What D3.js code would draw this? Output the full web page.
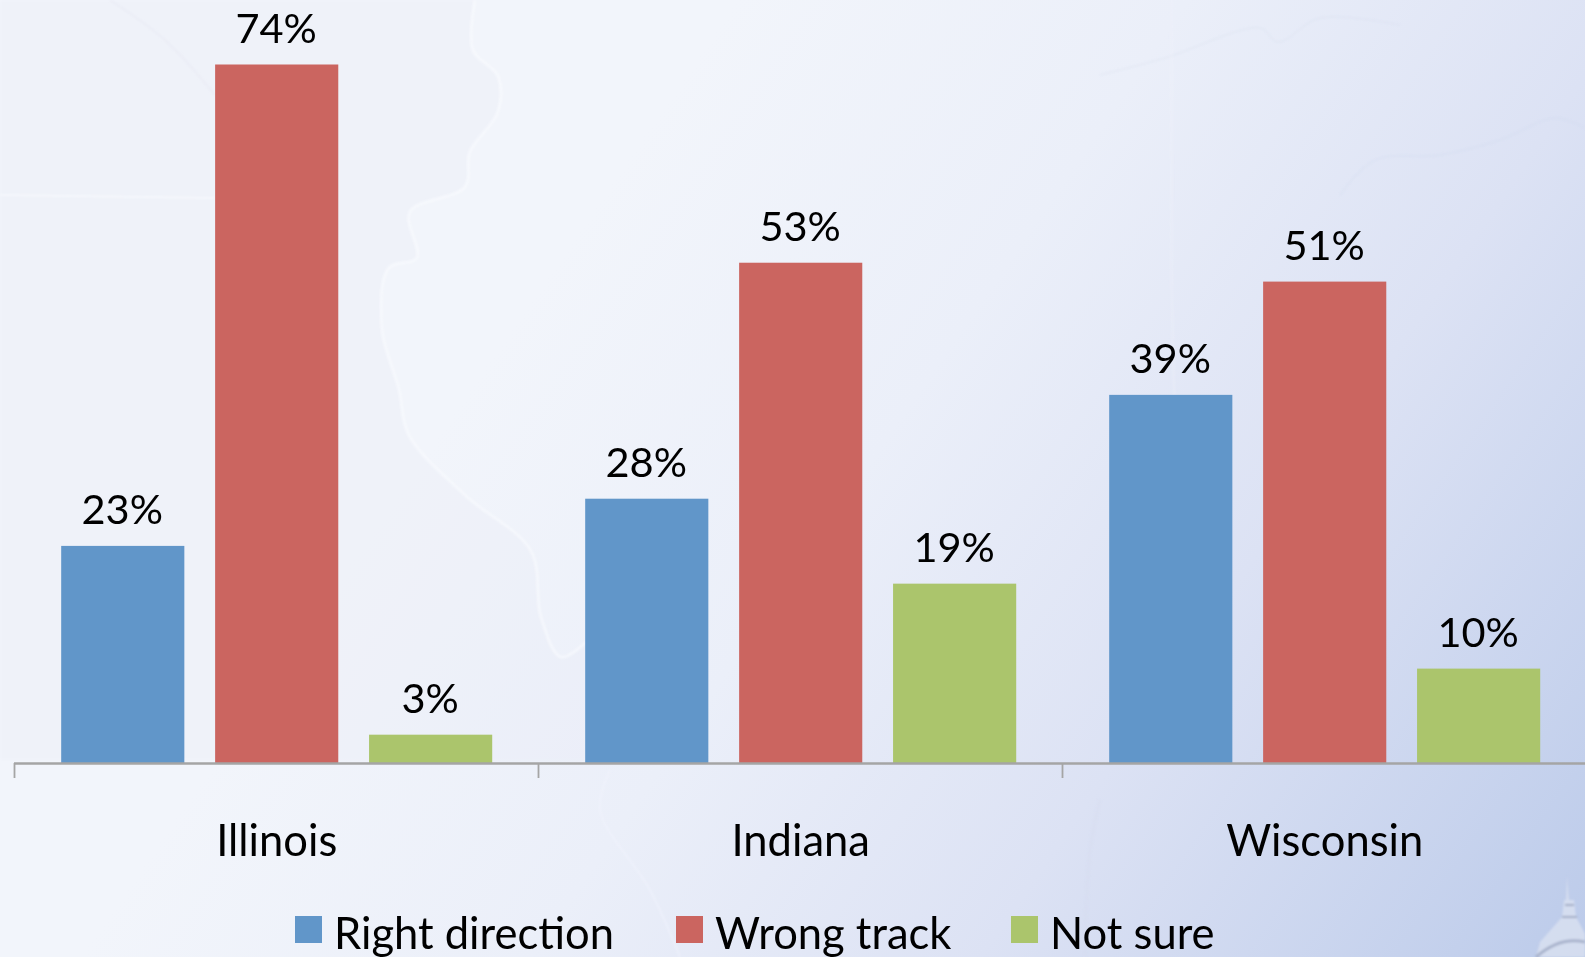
<!DOCTYPE html>
<html><head><meta charset="utf-8">
<script src="https://cdn.jsdelivr.net/npm/d3@7/dist/d3.min.js"></script>
<style>html,body{margin:0;padding:0;overflow:hidden;background:#f3f6fc}svg{display:block}text{font-family:Lato,"Open Sans",sans-serif;fill:#000}</style>
</head><body><svg id="c" width="1585" height="957"></svg>
<script>
const categories = ["Illinois","Indiana","Wisconsin"];
const seriesNames = ["Right direction","Wrong track","Not sure"];
const rightDirection = [23,28,39];
const wrongTrack = [74,53,51];
const notSure = [3,19,10];
const seriesColors = ["#6196C9","#CB6560","#ABC56C"];
const values = [rightDirection, wrongTrack, notSure];

const W=1585,H=957,base=763,fs=41.5,fsBig=43.5;
const svg=d3.select("#c");
const defs=svg.append("defs");
const grad=defs.append("linearGradient").attr("id","bg").attr("gradientUnits","userSpaceOnUse")
  .attr("x1",600).attr("y1",200).attr("x2",1620).attr("y2",900);
[[0,"#f2f5fb"],[0.3,"#ebeff9"],[0.6,"#dce2f4"],[1,"#bccbea"]].forEach(d=>grad.append("stop").attr("offset",d[0]).attr("stop-color",d[1]));
defs.append("filter").attr("id","soft").append("feGaussianBlur").attr("stdDeviation",1);
svg.append("rect").attr("width",W).attr("height",H).attr("fill","url(#bg)");

// faint map backdrop
const line=d3.line().curve(d3.curveCatmullRom);
const border=[[475,0],[473,50],[498,76],[498,112],[470,152],[465,187],[410,212],[417,258],[389,268],[382,328],[399,389],[409,435],[465,495],[531,551],[541,617],[561,657],[586,642]];
svg.append("path").attr("d",line(border)+`L586,760L0,760L0,0Z`).attr("fill","#e9ebf6").attr("opacity",0.22).attr("filter","url(#soft)");
const deco=svg.append("g").attr("fill","none").attr("filter","url(#soft)");
deco.append("path").attr("d",line(border)).attr("stroke","#fbfcff").attr("stroke-width",2.2).attr("opacity",0.7);
deco.append("path").attr("d",line([[1100,75],[1165,58],[1260,28],[1278,42],[1320,18],[1400,25]])).attr("stroke","#d3d9ec").attr("stroke-width",1).attr("opacity",0.4);
deco.append("path").attr("d",line([[1340,195],[1375,160],[1440,155],[1500,140],[1555,118],[1585,128]])).attr("stroke","#cdd4ea").attr("stroke-width",1).attr("opacity",0.4);
deco.append("path").attr("d",line([[110,0],[165,40],[215,95]])).attr("stroke","#e6e6f1").attr("stroke-width",1.2).attr("opacity",0.6);
deco.append("path").attr("d",line([[0,195],[215,198]])).attr("stroke","#fbfcff").attr("stroke-width",1.5).attr("opacity",0.7);
deco.append("path").attr("d",line([[1172,0],[1172,300],[1180,560]])).attr("stroke","#f4f6fd").attr("stroke-width",2).attr("opacity",0.3);
deco.append("path").attr("d",line([[610,770],[600,810],[650,890],[680,957]])).attr("stroke","#f4f6fd").attr("stroke-width",2).attr("opacity",0.5);
deco.append("path").attr("d",line([[1100,800],[1090,850],[1085,957]])).attr("stroke","#d5dcee").attr("stroke-width",3).attr("opacity",0.3);
// capitol dome
const dome=svg.append("g").attr("filter","url(#soft)");
dome.append("path").attr("d","M1567,876L1569,900L1574,900L1576,917L1582,928L1585,934L1585,957L1536,957L1540,942L1555,925L1562,917L1564,900L1566,900Z").attr("fill","#d8dff0").attr("opacity",0.85);
dome.append("path").attr("d","M1536,957Q1560,936 1585,942").attr("fill","none").attr("stroke","#a9b3cc").attr("stroke-width",3);
dome.append("path").attr("d","M1562,917L1577,917M1565,905L1574,905").attr("stroke","#a3adc6").attr("stroke-width",2);

// scales
const x0=d3.scaleBand().domain(categories).range([14.7,1586.7]);
const x1=d3.scaleBand().domain(seriesNames).range([0,x0.bandwidth()]).paddingInner(0.2).paddingOuter(0.302);
const y=d3.scaleLinear().domain([0,74]).range([base,64.5]);

// bars and labels
seriesNames.forEach((s,i)=>{
  const g=svg.append("g");
  g.selectAll("rect").data(values[i]).join("rect")
    .attr("x",(d,j)=>x0(categories[j])+x1(s)).attr("y",d=>y(d))
    .attr("width",x1.bandwidth()).attr("height",d=>base-y(d))
    .attr("fill",seriesColors[i]);
  g.selectAll("text").data(values[i]).join("text")
    .attr("x",(d,j)=>x0(categories[j])+x1(s)+x1.bandwidth()/2-0.5).attr("y",d=>y(d)-21.5)
    .attr("text-anchor","middle").attr("font-size",fs).text(d=>d+"%");
});

// axis
const ax=svg.append("g");
ax.append("line").attr("x1",14).attr("x2",W).attr("y1",763.5).attr("y2",763.5).attr("stroke","#a5a5a5").attr("stroke-width",2.4);
ax.selectAll(".t").data(categories).join("line").attr("class","t")
  .attr("x1",d=>x0(d)-0.2).attr("x2",d=>x0(d)-0.2).attr("y1",763).attr("y2",778).attr("stroke","#a5a5a5").attr("stroke-width",1.8);
ax.selectAll("text").data(categories).join("text")
  .attr("x",d=>x0(d)+x0.bandwidth()/2).attr("y",856).attr("text-anchor","middle").attr("font-size",fsBig).text(d=>d);

// legend
const legendX=d3.scaleOrdinal().domain(seriesNames).range([295,676,1011]);
const lg=svg.append("g").selectAll("g").data(seriesNames).join("g").attr("transform",d=>`translate(${legendX(d)},916)`);
lg.append("rect").attr("width",27).attr("height",27).attr("fill",(d,i)=>seriesColors[i]);
lg.append("text").attr("x",39).attr("y",32.5).attr("font-size",fsBig).text(d=>d);
</script></body></html>
